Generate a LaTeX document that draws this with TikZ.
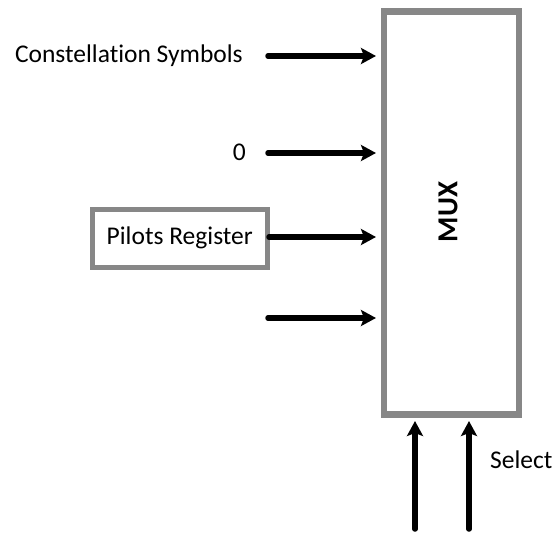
\documentclass[tikz,border=0pt]{standalone}
\usepackage{fontspec}
\setmainfont{Carlito}[Ligatures=NoCommon]
\usetikzlibrary{arrows.meta}
\begin{document}
\begin{tikzpicture}[x=1pt,y=-1pt,
  box/.style={draw=black!47,line width=6.5pt,fill=white,inner sep=0pt},
  lbl/.style={font=\fontsize{25.5}{30}\selectfont,inner sep=0pt},
  sig/.style={line width=5.5pt,line cap=round,-{Stealth[length=15pt,width=16pt,inset=3pt]}}]
\useasboundingbox (0,0) rectangle (555,533);
% multiplexer block
\node[box,minimum width=135pt,minimum height=403pt,anchor=north west] (mux) at (380.5,8) {};
\node[font=\bfseries\fontsize{29}{34}\selectfont,rotate=90] (muxlbl) at (448,212) {MUX};
% inputs
\node[lbl,anchor=east] (cs) at (243,56) {Constellation Symbols};
\node[lbl,anchor=east] (zero) at (246,152) {0};
\node[box,line width=5.5pt,minimum width=175pt,minimum height=58pt,anchor=north west] (pr) at (89.5,206.5) {};
\node[lbl] (prlbl) at (pr.center) {Pilots Register};
\coordinate (a1) at (268,56);
\coordinate (a2) at (268,153);
\coordinate (a3) at (269,237);
\coordinate (a4) at (268,318);
\coordinate (b1) at (376,56);
\coordinate (b2) at (376,153);
\coordinate (b3) at (376,237);
\coordinate (b4) at (376,318);
\draw[sig] (a1) -- (b1);
\draw[sig] (a2) -- (b2);
\draw[sig] (a3) -- (b3);
\draw[sig] (a4) -- (b4);
% select lines
\coordinate (s1) at (415,529);
\coordinate (s2) at (469,529);
\coordinate (t1) at (415,421);
\coordinate (t2) at (469,421);
\draw[sig] (s1) -- (t1);
\draw[sig] (s2) -- (t2);
\node[lbl,anchor=west] (sel) at (490,460) {Select};
\end{tikzpicture}
\end{document}
